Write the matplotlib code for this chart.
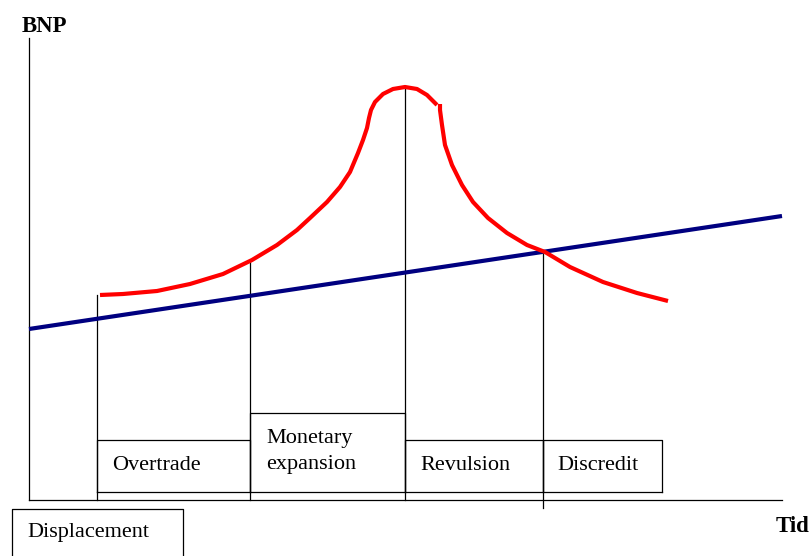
import matplotlib.pyplot as plt

# canvas in pixel units (x right, y down)
W, H = 811, 556

# trend line (blue)
trend_x = [29, 782]
trend_y = [329, 216]

# bubble curve (red), rise and peak
rise_x = [100, 123, 157, 190, 223, 252, 277, 297, 310, 327, 340, 350, 358, 363, 367, 369, 371,
          375, 383, 393, 405, 417, 427, 433, 437]
rise_y = [295, 294, 291, 284, 274, 260, 245, 230, 218, 202, 187, 172, 153, 140, 128, 118, 110,
          102, 94, 89, 87, 89, 95, 101, 105]
# bubble curve (red), crash
fall_x = [440, 440, 442, 445, 452, 462, 473, 488, 507, 527, 545, 570, 603, 637, 668]
fall_y = [104, 110, 125, 145, 165, 185, 202, 218, 233, 245, 252, 267, 282, 293, 301]

# phase boundaries: x, top of line, bottom of line
phase_x = [97, 250, 405, 543]
phase_top = [295, 261, 87, 252]
phase_bottom = [500, 500, 500, 508]

# phase boxes: left, right, top
boxes = [(97, 250, 440), (250, 405, 413), (405, 543, 440), (543, 662, 440)]
box_bottom = 492
box_labels = ["Overtrade", "Monetary", "expansion", "Revulsion", "Discredit"]
label_pos = [(112, 465), (266, 439), (266, 465), (420, 465), (557, 465)]

serif = ["Liberation Serif", "DejaVu Serif"]

fig = plt.figure(figsize=(W / 100, H / 100), dpi=100)
ax = fig.add_axes([0, 0, 1, 1])
ax.set_xlim(0, W)
ax.set_ylim(H, 0)
ax.axis("off")

# axes
ax.plot([29, 29], [38, 500], color="black", lw=0.9)
ax.plot([29, 782], [500, 500], color="black", lw=0.9)
ax.text(22, 26, "BNP", family=serif, weight="bold", fontsize=16.5, va="center", ha="left")
ax.text(776, 527, "Tid", family=serif, weight="bold", fontsize=16.5, va="center", ha="left")

# vertical phase lines
for x, t, b in zip(phase_x, phase_top, phase_bottom):
    ax.plot([x, x], [t, b], color="black", lw=0.9)

# boxes
for (l, r, t) in boxes:
    ax.plot([l, l, r, r], [box_bottom, t, t, box_bottom], color="black", lw=0.9)
ax.plot([97, 662], [box_bottom, box_bottom], color="black", lw=0.9)
for txt, (x, y) in zip(box_labels, label_pos):
    ax.text(x, y, txt, family=serif, fontsize=16, va="center", ha="left")

# displacement box
ax.plot([12, 12, 183, 183], [560, 509, 509, 560], color="black", lw=0.9)
ax.text(27, 533, "Displacement", family=serif, fontsize=16, va="center", ha="left")

# lines
ax.plot(trend_x, trend_y, color="#000080", lw=3, solid_capstyle="butt")
ax.plot(rise_x, rise_y, color="red", lw=3, solid_capstyle="butt", solid_joinstyle="round")
ax.plot(fall_x, fall_y, color="red", lw=3, solid_capstyle="butt", solid_joinstyle="round")

fig.savefig("out.png", dpi=100)
